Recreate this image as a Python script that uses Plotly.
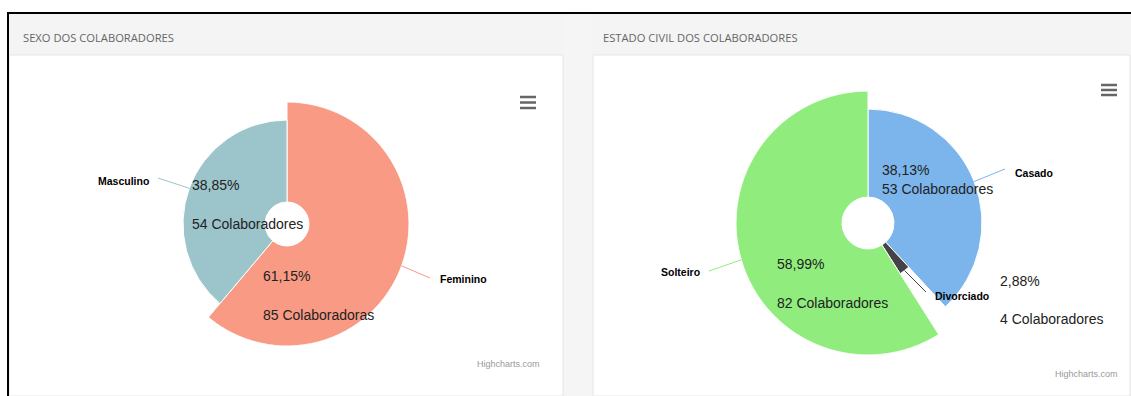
import math
import plotly.graph_objects as go

# ---- data ----
sexo_nomes = ["Feminino", "Masculino"]
sexo_qtd = [85, 54]
sexo_rotulo = ["Colaboradoras", "Colaboradores"]

civil_nomes = ["Casado", "Divorciado", "Solteiro"]
civil_qtd = [53, 4, 82]
civil_rotulo = ["Colaboradores", "Colaboradores", "Colaboradores"]

# ---- style ----
W, H = 1131, 396
sexo_cores = ["#f99a85", "#9bc5cb"]
civil_cores = ["#7cb5ec", "#434348", "#90ed7d"]
sexo_raio = [122, 104]          # outer radius of each slice (px)
civil_raio = [114, 60, 132]
sexo_centro, sexo_furo = (287, 224), 22
civil_centro, civil_furo = (868, 223), 26

FONT_IN = "Liberation Sans, Arial, sans-serif"
FONT_HDR = "Open Sans, sans-serif"


def fatias(qtd):
    total = sum(qtd)
    larg = [q / total * 360 for q in qtd]
    meio, acc = [], 0
    for w in larg:
        meio.append(acc + w / 2)
        acc += w
    pct = [q / total * 100 for q in qtd]
    return larg, meio, pct


def dominio(centro, rmax):
    cx, cy = centro
    return dict(x=[(cx - rmax) / W, (cx + rmax) / W],
                y=[1 - (cy + rmax) / H, 1 - (cy - rmax) / H])


fig = go.Figure()

# invisible pixel-space axes for decorations
fig.add_trace(go.Scatter(x=[0, W], y=[0, H], mode="markers",
                         marker=dict(opacity=0), hoverinfo="skip",
                         showlegend=False))

s_larg, s_meio, s_pct = fatias(sexo_qtd)
c_larg, c_meio, c_pct = fatias(civil_qtd)

fig.add_trace(go.Barpolar(
    theta=s_meio, width=s_larg,
    r=[r - sexo_furo for r in sexo_raio], base=sexo_furo,
    marker=dict(color=sexo_cores, line=dict(color="white", width=1)),
    text=sexo_nomes, hoverinfo="text", subplot="polar", showlegend=False))

fig.add_trace(go.Barpolar(
    theta=c_meio, width=c_larg,
    r=[r - civil_furo for r in civil_raio], base=civil_furo,
    marker=dict(color=civil_cores, line=dict(color="white", width=1)),
    text=civil_nomes, hoverinfo="text", subplot="polar2", showlegend=False))

polar_comum = dict(
    bgcolor="rgba(0,0,0,0)",
    angularaxis=dict(rotation=90, direction="clockwise", visible=False,
                     showgrid=False, showline=False),
)

shapes = []
# panel backgrounds
shapes.append(dict(type="rect", x0=9, x1=W, y0=14, y1=H, fillcolor="#f5f5f5",
                   line=dict(width=0), layer="below"))
for x0, x1 in [(9, 563), (593, 1130)]:
    shapes.append(dict(type="rect", x0=x0, x1=x1, y0=14, y1=55,
                       fillcolor="#f4f4f4", line=dict(width=0), layer="below"))
    shapes.append(dict(type="rect", x0=x0, x1=x1, y0=55, y1=H,
                       fillcolor="white", line=dict(color="#e6e6e6", width=1),
                       layer="below"))
# black frame
shapes.append(dict(type="line", x0=7, x1=W, y0=13, y1=13,
                   line=dict(color="black", width=2)))
shapes.append(dict(type="line", x0=8, x1=8, y0=12, y1=H,
                   line=dict(color="black", width=2)))
# menu icons
for cx, ys in [(528, [97, 102.5, 108]), (1109, [85, 90, 95])]:
    for yy in ys:
        shapes.append(dict(type="line", x0=cx - 8, x1=cx + 8, y0=yy, y1=yy,
                           line=dict(color="#666666", width=2.5)))

annotations = []


def texto(x, y, t, size, color, xanchor="left", bold=False, family=FONT_IN):
    # annotations carry ~2px of padding; compensate so text edges land on x
    dx = -2 if xanchor == "left" else (2 if xanchor == "right" else 0)
    annotations.append(dict(
        x=x + dx, y=y, xref="x", yref="y", text=f"<b>{t}</b>" if bold else t,
        showarrow=False, xanchor=xanchor, yanchor="middle",
        font=dict(size=size, color=color, family=family)))


def conector(centro, raio, ang, fim, cor):
    cx, cy = centro
    a = math.radians(ang)
    x0 = cx + raio * math.sin(a)
    y0 = cy - raio * math.cos(a)
    shapes.append(dict(type="line", x0=x0, y0=y0, x1=fim[0], y1=fim[1],
                       line=dict(color=cor, width=1)))


# headers
texto(23, 37, "SEXO DOS COLABORADORES", 11.2, "#666666", family=FONT_HDR)
texto(603, 37, "ESTADO CIVIL DOS COLABORADORES", 11.2, "#666666",
      family=FONT_HDR)

# outside name labels with connectors
ext_sexo = [((430, 278), (440, 279), "left"), ((158, 178), (149, 181), "right")]
for i, (fim, pos, anc) in enumerate(ext_sexo):
    conector(sexo_centro, sexo_raio[i], s_meio[i], fim, sexo_cores[i])
    texto(pos[0], pos[1], sexo_nomes[i], 10.5, "#000000", anc, bold=True)

ext_civil = [((1005, 169), (1015, 173), "left"),
             ((926, 292), (935, 296), "left"),
             ((709, 271), (700, 272), "right")]
for i, (fim, pos, anc) in enumerate(ext_civil):
    conector(civil_centro, civil_raio[i], c_meio[i], fim, civil_cores[i])
    texto(pos[0], pos[1], civil_nomes[i], 10.5, "#000000", anc, bold=True)


def fmt(p):
    return f"{p:.2f}".replace(".", ",") + "%"


# inner value labels
int_sexo = [((263, 276), (263, 315)), ((192, 185), (192, 224))]
for i, (p1, p2) in enumerate(int_sexo):
    texto(p1[0], p1[1], fmt(s_pct[i]), 14, "#222222")
    texto(p2[0], p2[1], f"{sexo_qtd[i]} {sexo_rotulo[i]}", 14, "#222222")

int_civil = [((882, 170), (882, 189)), ((1000, 281), (1000, 319)),
             ((777, 264), (777, 303))]
for i, (p1, p2) in enumerate(int_civil):
    texto(p1[0], p1[1], fmt(c_pct[i]), 14, "#222222")
    texto(p2[0], p2[1], f"{civil_qtd[i]} {civil_rotulo[i]}", 14, "#222222")

# credits
texto(540, 364, "Highcharts.com", 9, "#999999", "right")
texto(1118, 374, "Highcharts.com", 9, "#999999", "right")

fig.update_layout(
    width=W, height=H,
    margin=dict(l=0, r=0, t=0, b=0),
    paper_bgcolor="white",
    plot_bgcolor="rgba(0,0,0,0)",
    showlegend=False,
    xaxis=dict(range=[0, W], domain=[0, 1], visible=False, fixedrange=True),
    yaxis=dict(range=[H, 0], domain=[0, 1], visible=False, fixedrange=True),
    polar=dict(domain=dominio(sexo_centro, max(sexo_raio)),
               radialaxis=dict(range=[0, max(sexo_raio)], visible=False,
                               showgrid=False, showline=False),
               **polar_comum),
    polar2=dict(domain=dominio(civil_centro, max(civil_raio)),
                radialaxis=dict(range=[0, max(civil_raio)], visible=False,
                                showgrid=False, showline=False),
                **polar_comum),
    shapes=shapes,
    annotations=annotations,
)

fig.write_html("out.html", config={"displayModeBar": False})
